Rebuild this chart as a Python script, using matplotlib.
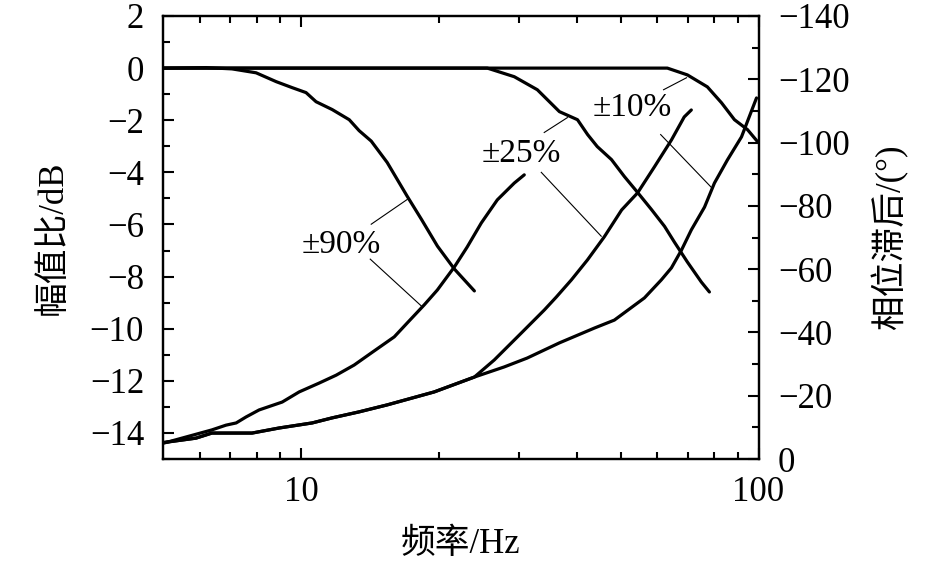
import matplotlib

matplotlib.use("Agg")
import matplotlib.pyplot as plt
from matplotlib.ticker import NullFormatter, MultipleLocator

plt.rcParams["font.family"] = ["Liberation Serif", "Noto Sans CJK SC"]
plt.rcParams["axes.unicode_minus"] = True

# magnitude curves (Hz, dB) -- left axis
f_mag_90 = [5.0, 6.2, 7.06, 7.97, 8.82, 9.56, 10.25, 10.78, 11.69, 12.74, 13.39,
            14.23, 15.42, 17.06, 18.32, 19.86, 21.63, 23.92]
db_mag_90 = [0.0, 0.02, -0.03, -0.18, -0.52, -0.75, -0.94, -1.29, -1.59, -1.98,
             -2.40, -2.80, -3.62, -4.92, -5.80, -6.83, -7.71, -8.55]

f_mag_25 = [5.0, 25.53, 29.24, 32.84, 36.7, 40.2, 42.3, 44.4, 47.7, 50.9, 54.4,
            58.3, 62.3, 65.5, 69.9, 75.0, 78.1]
db_mag_25 = [0.0, 0.0, -0.33, -0.83, -1.67, -1.98, -2.55, -3.01, -3.51, -4.16,
             -4.77, -5.42, -6.07, -6.68, -7.44, -8.21, -8.59]

f_mag_10 = [5.0, 63.2, 69.9, 77.3, 83.0, 88.6, 94.6, 99.5]
db_mag_10 = [0.0, 0.0, -0.26, -0.72, -1.33, -1.98, -2.36, -2.82]

# phase curves (Hz, deg) -- right axis
f_ph_90 = [5.0, 6.38, 6.85, 7.21, 7.58, 8.09, 9.09, 9.90, 10.95, 11.93, 13.06,
           14.23, 15.98, 17.06, 18.58, 19.85, 21.63, 23.07, 24.77, 26.85, 29.24, 30.75]
deg_ph_90 = [-5.0, -9.2, -10.7, -11.4, -13.3, -15.5, -18.0, -21.2, -24.0, -26.5,
             -29.7, -33.5, -38.6, -43.0, -48.7, -53.4, -60.7, -67.0, -74.6, -81.9,
             -87.2, -89.8]

f_ph_low = [5.0, 5.89, 6.38, 7.81, 8.95, 10.57, 11.69, 13.39, 15.42, 19.54, 23.92]
deg_ph_low = [-5.2, -6.6, -8.2, -8.2, -9.8, -11.4, -13.0, -14.9, -17.1, -21.2, -25.9]

f_ph_25 = f_ph_low + [26.44, 30.29, 34.02, 36.14, 38.98, 42.26, 46.0, 50.2, 54.4,
                      59.2, 64.5, 68.8, 71.3]
deg_ph_25 = deg_ph_low + [-31.3, -39.8, -47.1, -51.2, -56.6, -62.9, -70.2, -78.7,
                          -84.1, -92.3, -100.8, -108.1, -110.3]

f_ph_10 = f_ph_low + [27.8, 31.2, 36.7, 43.8, 48.4, 56.3, 61.3, 64.5, 67.9, 71.3,
                      76.2, 80.1, 85.5, 91.8, 99.0]
deg_ph_10 = deg_ph_low + [-29.1, -31.9, -36.7, -41.4, -43.9, -50.9, -56.6, -60.4,
                          -66.1, -72.4, -79.6, -87.2, -94.5, -101.8, -114.1]

# labels with two leader lines each (left-axis units: Hz, dB)
labels = ["±90%", "±25%", "±10%"]
label_pos = [(12.24, -6.76), (30.29, -3.28), (52.97, -1.52)]
leader_up = [((14.23, -5.99), (17.06, -5.04)),
             ((34.0, -2.47), (38.2, -1.90)),
             ((62.0, -0.83), (69.6, -0.37))]
leader_dn = [((14.16, -7.33), (18.32, -9.13)),
             ((33.5, -4.0), (45.3, -6.45)),
             ((61.1, -2.55), (78.9, -4.58))]

fig = plt.figure(figsize=(9.46, 5.63), dpi=100)
ax = fig.add_axes([0.1728, 0.1847, 0.6290, 0.7869])
ax2 = ax.twinx()

lw = 2.3
for f, d in [(f_mag_90, db_mag_90), (f_mag_25, db_mag_25), (f_mag_10, db_mag_10)]:
    ax.plot(f, d, color="black", lw=lw, solid_capstyle="round")
for f, d in [(f_ph_90, deg_ph_90), (f_ph_25, deg_ph_25), (f_ph_10, deg_ph_10)]:
    ax2.plot(f, d, color="black", lw=lw, solid_capstyle="round")

for txt, pos, up, dn in zip(labels, label_pos, leader_up, leader_dn):
    ax.text(pos[0], pos[1], txt, fontsize=24, ha="center", va="center")
    for seg in (up, dn):
        ax.plot([seg[0][0], seg[1][0]], [seg[0][1], seg[1][1]], color="black", lw=0.8)

ax.set_xscale("log")
ax.set_xlim(5, 100)
ax.set_ylim(-15, 2)
ax.set_xticks([10, 100], ["10", "100"])
ax.set_xticks([6, 7, 8, 9, 20, 30, 40, 50, 60, 70, 80, 90], minor=True)
ax.xaxis.set_minor_formatter(NullFormatter())
ax.set_yticks(range(-14, 3, 2))
ax.yaxis.set_minor_locator(MultipleLocator(1))

ax2.set_ylim(0, -140)
ax2.set_yticks(range(0, -141, -20))
ax2.yaxis.set_minor_locator(MultipleLocator(10))

ax.tick_params(axis="x", which="both", direction="in", top=True, labelsize=25, pad=12)
ax.tick_params(axis="y", which="both", direction="in", labelsize=25, pad=14)
ax.tick_params(which="major", length=8, width=1.5)
ax.tick_params(which="minor", length=5, width=1.5)
ax2.tick_params(axis="y", which="both", direction="in", labelsize=25, pad=14)
ax2.tick_params(which="major", length=8, width=1.5)
ax2.tick_params(which="minor", length=5, width=1.5)

for a in (ax, ax2):
    for s in a.spines.values():
        s.set_linewidth(1.6)

ax.set_xlabel("频率/Hz", fontsize=25)
ax.set_ylabel("幅值比/dB", fontsize=25)
ax2.set_ylabel("相位滞后/(°)", fontsize=25)
ax.xaxis.set_label_coords(0.5, -0.156)
ax.yaxis.set_label_coords(-0.157, 0.5)
ax2.yaxis.set_label_coords(1.19, 0.5)

fig.savefig("out.png", dpi=100)
